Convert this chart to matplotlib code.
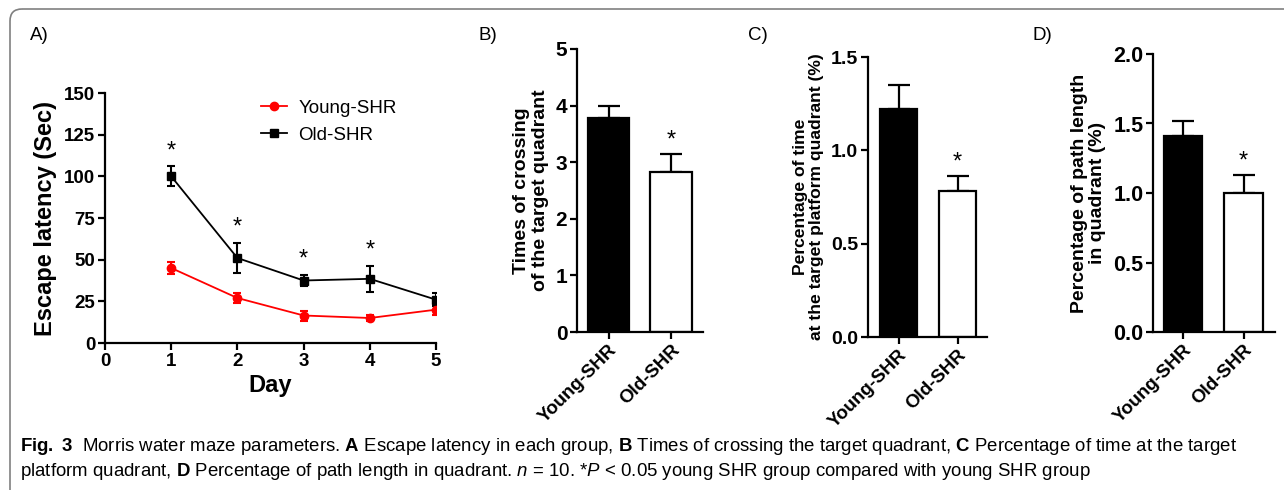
import matplotlib
matplotlib.use("Agg")
import matplotlib.pyplot as plt
from matplotlib.patches import FancyBboxPatch
from matplotlib.lines import Line2D
import numpy as np

plt.rcParams['font.family'] = ['Liberation Sans', 'DejaVu Sans']
plt.rcParams['mathtext.fontset'] = 'custom'
plt.rcParams['mathtext.rm'] = 'Liberation Sans'
plt.rcParams['mathtext.bf'] = 'Liberation Sans:bold'
plt.rcParams['mathtext.it'] = 'Liberation Sans:italic'

# ---- data ----
days = [1, 2, 3, 4, 5]
young_latency = [45, 27, 16.5, 15, 20]
young_latency_err = [3.5, 3, 3, 2, 3]
old_latency = [100, 51, 37.5, 38.5, 26]
old_latency_err = [6, 9, 3.5, 8, 4]
latency_sig = [True, True, True, True, False]

groups = ["Young-SHR", "Old-SHR"]
crossing = [3.78, 2.83]
crossing_err = [0.22, 0.31]
time_pct = [1.22, 0.78]
time_pct_err = [0.13, 0.08]
path_pct = [1.41, 1.00]
path_pct_err = [0.11, 0.13]

W, H = 1284, 490
fig = plt.figure(figsize=(W / 100, H / 100), dpi=100)

def px_axes(x0, y_top, x1, y_bot):
    return fig.add_axes([x0 / W, (H - y_bot) / H, (x1 - x0) / W, (y_bot - y_top) / H])

# border box
bg = fig.add_axes([0, 0, 1, 1])
bg.set_xlim(0, W); bg.set_ylim(H, 0); bg.axis('off')
box = FancyBboxPatch((10, 9), W + 50, H + 50, boxstyle="round,pad=0,rounding_size=12",
                     fill=False, edgecolor='#808080', linewidth=1.2)
bg.add_patch(box)

def style(ax, tsize):
    for s in ['top', 'right']:
        ax.spines[s].set_visible(False)
    for s in ['left', 'bottom']:
        ax.spines[s].set_linewidth(1.6)
    ax.tick_params(width=1.6, length=5, labelsize=tsize, pad=2)
    for lab in ax.get_xticklabels() + ax.get_yticklabels():
        lab.set_fontweight('bold')

# ---- Panel A ----
axA = px_axes(105, 93, 436, 343)
axA.errorbar(days, young_latency, yerr=young_latency_err, color='#ff0000', marker='o',
             markersize=6, linewidth=1.3, capsize=3, elinewidth=1.5, capthick=1.5)
axA.errorbar(days, old_latency, yerr=old_latency_err, color='black', marker='s',
             markersize=6, linewidth=1.3, capsize=3, elinewidth=1.5, capthick=1.5)
for d, v, e, s in zip(days, old_latency, old_latency_err, latency_sig):
    if s:
        axA.annotate('*', (d, v + e), xytext=(0, 3), textcoords='offset points',
                     ha='center', va='bottom', fontsize=17)
axA.set_xlim(0, 5)
axA.set_ylim(0, 150)
axA.set_xticks([0, 1, 2, 3, 4, 5])
axA.set_yticks([0, 25, 50, 75, 100, 125, 150])
axA.set_xlabel('Day', fontsize=17, fontweight='bold', labelpad=3)
axA.set_ylabel('Escape latency (Sec)', fontsize=17, fontweight='bold', labelpad=5)
style(axA, 13.5)
handles = [Line2D([], [], color='#ff0000', marker='o', markersize=6, linewidth=1.3),
           Line2D([], [], color='black', marker='s', markersize=6, linewidth=1.3)]
axA.legend(handles, ['Young-SHR', 'Old-SHR'], loc='upper left', bbox_to_anchor=(0.42, 1.04),
           frameon=False, fontsize=13.5, handlelength=1.4, handletextpad=0.6, labelspacing=0.5)
fig.text(30 / W, 1 - 35 / H, 'A)', fontsize=13.5, ha='left', va='center')

# ---- bar panels ----
def bar_panel(ax_px, lim, vals, errs, ylim, yticks, yfmt, ylabel, letter, letter_x, width,
              tsize, lsize):
    ax = px_axes(*ax_px)
    x = np.arange(len(groups))
    colors = ['black', 'white']
    ax.bar(x, vals, width=width, color=colors, edgecolor='black', linewidth=1.6, zorder=2)
    ax.errorbar(x, vals, yerr=[np.zeros(len(vals)), errs], fmt='none', ecolor='black',
                elinewidth=1.6, capsize=8, capthick=1.6, zorder=1)
    top = vals[1] + errs[1]
    ax.annotate('*', (x[1], top), xytext=(0, 2), textcoords='offset points',
                ha='center', va='bottom', fontsize=17)
    ax.set_xlim(*lim)
    ax.set_ylim(*ylim)
    ax.set_yticks(yticks)
    ax.set_yticklabels([yfmt.format(t) for t in yticks])
    ax.set_xticks(x)
    ax.set_xticklabels(groups, rotation=45, ha='right', rotation_mode='anchor')
    ax.set_ylabel(ylabel, fontsize=lsize, fontweight='bold', labelpad=5, linespacing=1.1)
    style(ax, tsize)
    for lab in ax.get_xticklabels():
        lab.set_fontsize(13.5)
    fig.text(letter_x / W, 1 - 35 / H, letter, fontsize=13.5, ha='left', va='center')
    return ax

bar_panel((577, 49, 703, 332), (-0.504, 1.51), crossing, crossing_err, (0, 5),
          [0, 1, 2, 3, 4, 5], '{:g}', 'Times of crossing\nof the target quadrant', 'B)', 478, 0.66,
          15, 14)
bar_panel((868, 57, 987, 337), (-0.517, 1.5), time_pct, time_pct_err, (0, 1.5),
          [0, 0.5, 1.0, 1.5], '{:.1f}', 'Percentage of time\nat the target platform quadrant (%)',
          'C)', 748, 0.64, 14, 12.6)
bar_panel((1153, 54, 1275, 332), (-0.496, 1.52), path_pct, path_pct_err, (0, 2.0),
          [0, 0.5, 1.0, 1.5, 2.0], '{:.1f}', 'Percentage of path length\nin quadrant (%)',
          'D)', 1032, 0.63, 15.5, 14)

# ---- caption ----
line1 = (r"$\bf{Fig.\ 3}$  Morris water maze parameters. $\bf{A}$ Escape latency in each group, "
         r"$\bf{B}$ Times of crossing the target quadrant, $\bf{C}$ Percentage of time at the target")
line2 = (r"platform quadrant, $\bf{D}$ Percentage of path length in quadrant. $n$ = 10. *$P$ < 0.05 "
         r"young SHR group compared with young SHR group")
fig.text(20 / W, 1 - 446 / H, line1, fontsize=13.4, ha='left', va='center')
fig.text(20 / W, 1 - 471 / H, line2, fontsize=13.4, ha='left', va='center')

fig.savefig('out.png', dpi=100)
